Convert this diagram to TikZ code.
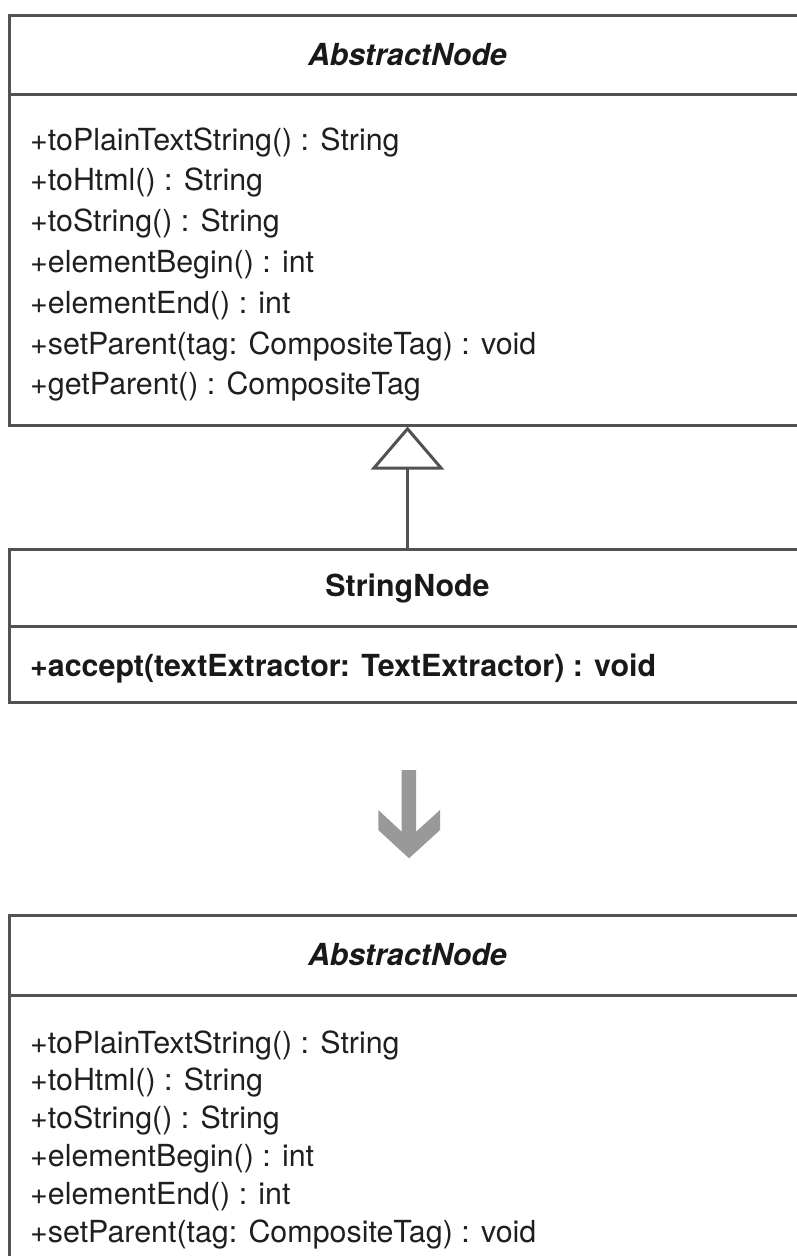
\documentclass[tikz,border=0pt]{standalone}
\usepackage{fontspec}
\setmainfont{TeX Gyre Heros}
\usetikzlibrary{arrows.meta}
\begin{document}
\begin{tikzpicture}[x=1bp,y=-1bp,
  boxline/.style={draw=black!68, line width=3bp},
  umlbox/.style={boxline, rectangle, inner sep=0pt, minimum width=795bp},
  classname/.style={inner sep=0pt, text=black!90, font=\fontsize{30.5}{36}\selectfont\bfseries},
  member/.style={inner sep=0pt, anchor=base west, text=black!88, font=\fontsize{30.5}{36}\selectfont},
  bigarrow/.style={fill=black!40, draw=none}]
\useasboundingbox (0,0) rectangle (797,1256);
\clip (0,0) rectangle (797,1256);

% --- top AbstractNode ---
\node[umlbox, minimum height=410bp] (abs1) at (407.5,220) {};
\draw[boxline] (abs1.west |- 0,94) -- (abs1.east |- 0,94);
\node[classname, font=\fontsize{30.5}{36}\selectfont\bfseries\itshape] (abs1name) at (407.5,55) {AbstractNode};
\node[member] (a1m1) at (30,150.0) {+toPlainTextString() : String};
\node[member] (a1m2) at (30,190.8) {+toHtml() : String};
\node[member] (a1m3) at (30,231.6) {+toString() : String};
\node[member] (a1m4) at (30,272.4) {+elementBegin() : int};
\node[member] (a1m5) at (30,313.2) {+elementEnd() : int};
\node[member] (a1m6) at (30,354.0) {+setParent(tag: CompositeTag) : void};
\node[member] (a1m7) at (30,394.8) {+getParent() : CompositeTag};

% --- StringNode ---
\node[umlbox, minimum height=153bp] (sn) at (407.5,625.5) {};
\draw[boxline] (sn.west |- 0,626) -- (sn.east |- 0,626);
\node[classname] (snname) at (407.5,588) {StringNode};
\node[member, font=\fontsize{30.5}{36}\selectfont\bfseries, text=black!90] (snm1) at (30,676) {+accept(textExtractor: TextExtractor) : void};

% --- generalization ---
\draw[boxline, -{Triangle[open, length=43bp, width=73bp, line width=3bp]}] (sn.north) -- (abs1.south);

% --- gray transformation arrow ---
\path[bigarrow] (401.7,770) -- (416,770) -- (416,831.7) -- (440,810) -- (440,830)
  -- (409,858.3) -- (378.3,830) -- (378.3,810) -- (401.7,831.7) -- cycle;

% --- bottom AbstractNode ---
\node[umlbox, minimum height=400bp] (abs2) at (407.5,1115) {};
\draw[boxline] (abs2.west |- 0,995) -- (abs2.east |- 0,995);
\node[classname, font=\fontsize{30.5}{36}\selectfont\bfseries\itshape] (abs2name) at (407.5,955) {AbstractNode};
\node[member] (a2m1) at (30,1053.0) {+toPlainTextString() : String};
\node[member] (a2m2) at (30,1090.8) {+toHtml() : String};
\node[member] (a2m3) at (30,1128.6) {+toString() : String};
\node[member] (a2m4) at (30,1166.4) {+elementBegin() : int};
\node[member] (a2m5) at (30,1204.2) {+elementEnd() : int};
\node[member] (a2m6) at (30,1242.0) {+setParent(tag: CompositeTag) : void};
\end{tikzpicture}
\end{document}
